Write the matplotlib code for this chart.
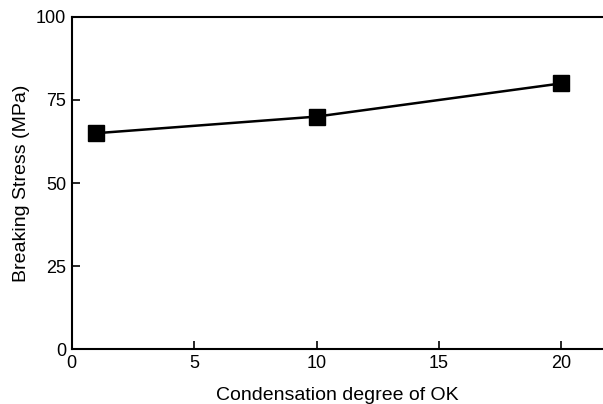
import matplotlib
matplotlib.use('Agg')
import matplotlib.pyplot as plt

plt.rcParams['font.family'] = ['Liberation Sans', 'DejaVu Sans']

# condensation degree vs breaking stress
condensation = [1, 10, 20]
stress = [65, 70, 80]
x_ticks = [0, 5, 10, 15, 20]
y_ticks = [0, 25, 50, 75, 100]

fig = plt.figure(figsize=(6.03, 4.04), dpi=100)
ax = fig.add_axes([0.119, 0.136, 0.881, 0.822])

ax.plot(condensation, stress, color='black', linewidth=1.8,
        marker='s', markersize=11, markerfacecolor='black')

ax.set_xlim(0, 21.7)
ax.set_ylim(0, 100)
ax.set_xticks(x_ticks)
ax.set_yticks(y_ticks)
ax.tick_params(direction='in', length=6, width=1.2, labelsize=13, pad=4)
ax.spines['right'].set_visible(False)
for s in ['left', 'bottom', 'top']:
    ax.spines[s].set_linewidth(1.5)

ax.set_xlabel('Condensation degree of OK', fontsize=14, labelpad=11)
ax.set_ylabel('Breaking Stress (MPa)', fontsize=14, labelpad=4)

fig.savefig('out.png', dpi=100)
